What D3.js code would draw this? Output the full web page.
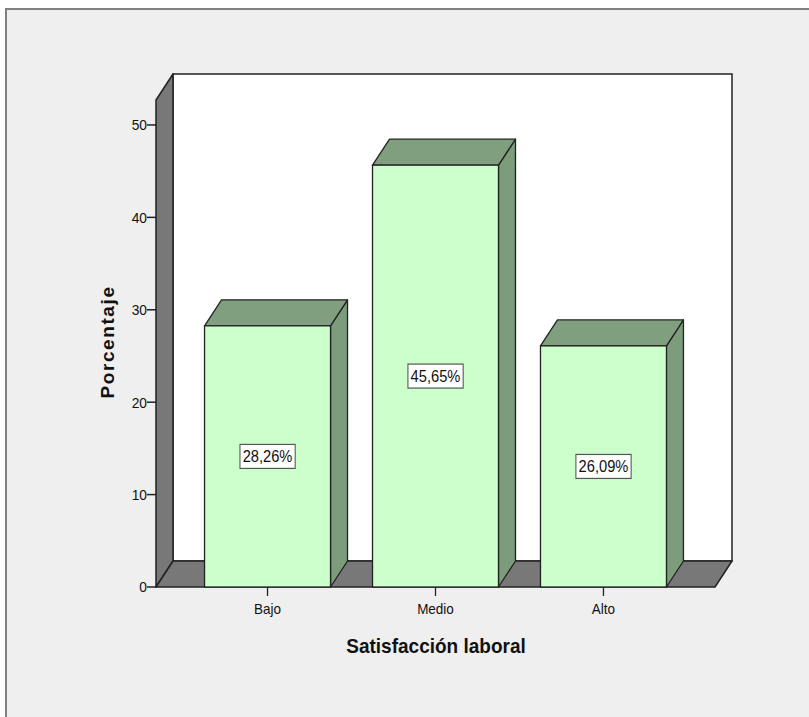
<!DOCTYPE html>
<html>
<head>
<meta charset="utf-8">
<script src="https://cdn.jsdelivr.net/npm/d3@7"></script>
<style>
  html, body { margin: 0; padding: 0; background: #ffffff; }
  svg { display: block; }
  text { font-family: "Liberation Sans", Arial, sans-serif; fill: #111; }
</style>
</head>
<body>
<svg id="chart" width="809" height="717"></svg>
<script>
// Satisfacción laboral: distribución porcentual
const categories = ["Bajo", "Medio", "Alto"];
const percentages = [28.26, 45.65, 26.09];
const valueLabels = ["28,26%", "45,65%", "26,09%"];
const yTicks = [0, 10, 20, 30, 40, 50];
const xTitle = "Satisfacción laboral";
const yTitle = "Porcentaje";

const svg = d3.select("#chart");

// panel frame
svg.append("rect")
  .attr("x", 6).attr("y", 9).attr("width", 820).attr("height", 720)
  .attr("fill", "#efefef").attr("stroke", "#808080").attr("stroke-width", 2);

// plot geometry (front plane) and 3D depth offset
const plotLeft = 156, plotRight = 715, plotTop = 100, plotBottom = 587;
const dx = 17, dy = -26;
const stroke = "#222";

const x = d3.scaleBand().domain(categories).range([plotLeft, plotRight])
  .paddingInner(0.25).paddingOuter(0.289);
const y = d3.scaleLinear().domain([0, 52.7]).range([plotBottom, plotTop]);

// back wall
svg.append("rect")
  .attr("x", plotLeft + dx).attr("y", plotTop + dy)
  .attr("width", plotRight - plotLeft).attr("height", plotBottom - plotTop)
  .attr("fill", "#ffffff").attr("stroke", stroke).attr("stroke-width", 1.5);

// left wall
svg.append("polygon")
  .attr("points", [[plotLeft, plotTop], [plotLeft + dx, plotTop + dy], [plotLeft + dx, plotBottom + dy], [plotLeft, plotBottom]].join(" "))
  .attr("fill", "#787878").attr("stroke", stroke).attr("stroke-width", 1.5).attr("stroke-linejoin", "round");

// floor
svg.append("polygon")
  .attr("points", [[plotLeft, plotBottom], [plotLeft + dx, plotBottom + dy], [plotRight + dx, plotBottom + dy], [plotRight, plotBottom]].join(" "))
  .attr("fill", "#787878").attr("stroke", stroke).attr("stroke-width", 1.5).attr("stroke-linejoin", "round");

// y axis ticks and labels
const yAxis = svg.append("g");
yTicks.forEach(t => {
  yAxis.append("line")
    .attr("x1", plotLeft - 9).attr("x2", plotLeft)
    .attr("y1", y(t)).attr("y2", y(t))
    .attr("stroke", stroke).attr("stroke-width", 1.5);
  yAxis.append("text")
    .attr("transform", `translate(${plotLeft - 9},${y(t)}) scale(0.92,1)`)
    .attr("dy", "0.36em")
    .attr("text-anchor", "end").attr("font-size", 15)
    .text(t);
});

// bars
const bars = svg.append("g").selectAll("g").data(categories).join("g");
bars.each(function(c, i) {
  const g = d3.select(this);
  const x0 = x(c), x1 = x(c) + x.bandwidth();
  const yt = y(percentages[i]);
  // side face
  g.append("polygon")
    .attr("points", [[x1, yt], [x1 + dx, yt + dy], [x1 + dx, plotBottom + dy], [x1, plotBottom]].join(" "))
    .attr("fill", "#7c9c7c").attr("stroke", stroke).attr("stroke-width", 1.3).attr("stroke-linejoin", "round");
  // top face
  g.append("polygon")
    .attr("points", [[x0, yt], [x0 + dx, yt + dy], [x1 + dx, yt + dy], [x1, yt]].join(" "))
    .attr("fill", "#7f9f7f").attr("stroke", stroke).attr("stroke-width", 1.3).attr("stroke-linejoin", "round");
  // front face
  g.append("rect")
    .attr("x", x0).attr("y", yt).attr("width", x1 - x0).attr("height", plotBottom - yt)
    .attr("fill", "#ccffcc").attr("stroke", stroke).attr("stroke-width", 1.3);
  // value label (slightly condensed)
  const cx = x0 + x.bandwidth() / 2, cy = y(percentages[i] / 2);
  const lbl = g.append("g").attr("transform", `translate(${cx},${cy}) scale(0.89,1)`);
  const box = lbl.append("rect").attr("fill", "#ffffff").attr("stroke", "#555").attr("stroke-width", 1.2);
  const t = lbl.append("text")
    .attr("dy", "0.36em")
    .attr("text-anchor", "middle").attr("font-size", 16.5)
    .text(valueLabels[i]);
  const bb = t.node().getBBox();
  box.attr("x", bb.x - 3).attr("y", -12).attr("width", bb.width + 6).attr("height", 24);
});

// x axis ticks and labels
categories.forEach(c => {
  const cx = x(c) + x.bandwidth() / 2;
  svg.append("line")
    .attr("x1", cx).attr("x2", cx).attr("y1", plotBottom).attr("y2", plotBottom + 9)
    .attr("stroke", stroke).attr("stroke-width", 1.3);
  svg.append("text")
    .attr("transform", `translate(${cx},614) scale(0.9,1)`)
    .attr("text-anchor", "middle").attr("font-size", 15)
    .text(c);
});

// axis titles
svg.append("text")
  .attr("transform", "translate(436,653) scale(0.95,1)")
  .attr("text-anchor", "middle").attr("font-size", 20).attr("font-weight", "bold")
  .text(xTitle);

svg.append("text")
  .attr("transform", "translate(114,342) rotate(-90)")
  .attr("text-anchor", "middle").attr("font-size", 19).attr("font-weight", "bold")
  .attr("letter-spacing", 1.6)
  .text(yTitle);
</script>
</body>
</html>
